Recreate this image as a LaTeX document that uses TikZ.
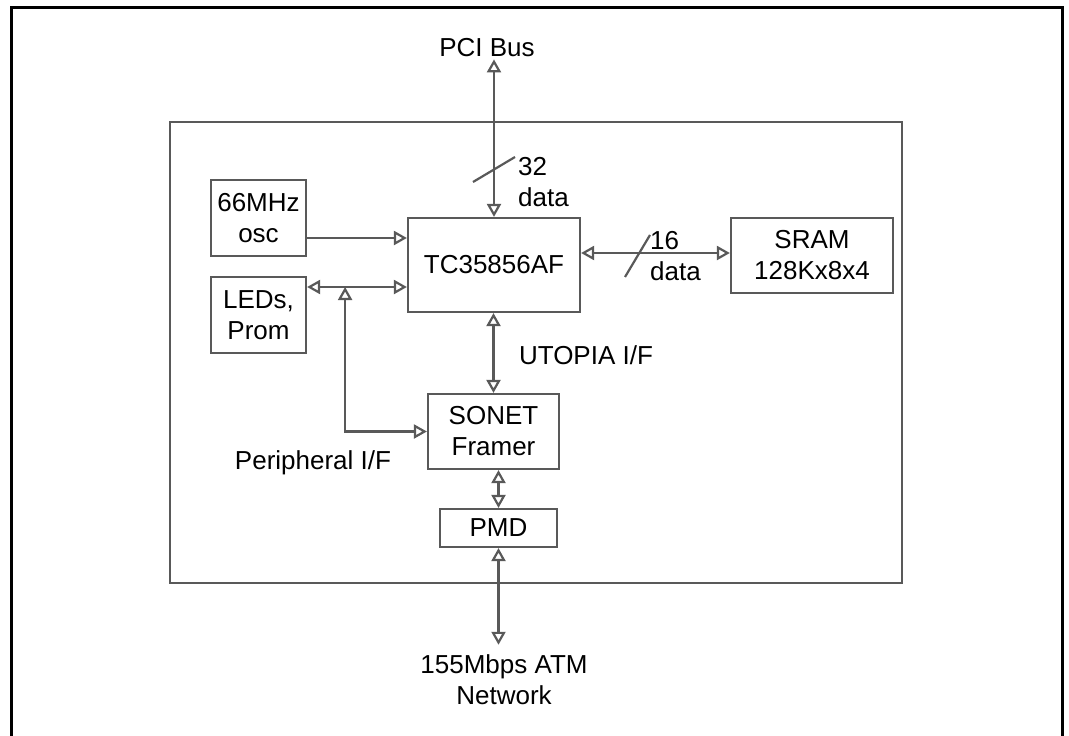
\documentclass[tikz,border=0pt]{standalone}
\usepackage{fontspec}
\setmainfont{Liberation Sans}
\usetikzlibrary{arrows.meta}
\tikzset{
  wire/.style={draw=black!65, line width=2.2pt},
  blk/.style={wire, inner sep=0pt, align=center},
  lbl/.style={inner sep=2pt, align=center},
}
\begin{document}
\begin{tikzpicture}[x=1pt,y=-1pt,font=\fontsize{26}{31}\selectfont,
  >={Triangle[open,length=13pt,width=14pt]}]
\useasboundingbox (0,0) rectangle (1069,736);
% frames
\draw[line width=3pt] (11,760) -- (11,7) -- (1062,7) -- (1062,760);
\draw[wire] (170,122) rectangle (902,583);
% blocks
\node[blk, minimum width=95pt, minimum height=76pt] (osc) at (258.5,218) {66MHz\\osc};
\node[blk, minimum width=95pt, minimum height=76pt] (led) at (258.5,315) {LEDs,\\Prom};
\node[blk, minimum width=172pt, minimum height=94pt] (tc) at (494,265) {TC35856AF};
\node[blk, minimum width=162pt, minimum height=75pt] (sram) at (812,255.5) {SRAM\\128Kx8x4};
\node[blk, minimum width=131pt, minimum height=75pt] (sonet) at (493.5,431.5) {SONET\\Framer};
\node[blk, minimum width=117pt, minimum height=38pt] (pmd) at (498.5,528) {PMD};
% outside ends
\node[lbl] (pci) at (487,48) {PCI Bus};
\node[lbl] (atm) at (504,680) {155Mbps ATM\\Network};
% labels
\node[lbl, anchor=west, align=left] (bus32) at (516,182) {32\\data};
\node[lbl, anchor=west, align=left] (bus16) at (648,256) {16\\data};
\node[lbl] (utopia) at (586,355) {UTOPIA I/F};
\node[lbl] (periph) at (313,463) {Peripheral I/F};
% connectors
\draw[wire,<->] (pci.south -| tc.north) -- (tc.north);
\draw[wire,->] ([yshift=-20pt]osc.east) coordinate (o1) -- (o1 -| tc.west);
\draw[wire,<->] ([yshift=28pt]led.east) coordinate (l1) -- (l1 -| tc.west);
\coordinate (jn) at ([xshift=38pt]l1);
\draw[wire,<->] (jn) |- (sonet.west);
\draw[wire,<->] ([yshift=12pt]tc.east) coordinate (t1) -- (t1 -| sram.west);
\draw[wire,<->] (sonet.north |- tc.south) -- (sonet.north);
\draw[wire,<->] (sonet.south -| pmd.north) -- (pmd.north);
\draw[wire,<->] (pmd.south) -- ([yshift=8pt]atm.north -| pmd.south);
% bus width ticks
\draw[wire] (473,182) -- (515,157);
\draw[wire] (625,277) -- (650,235);
\end{tikzpicture}
\end{document}
